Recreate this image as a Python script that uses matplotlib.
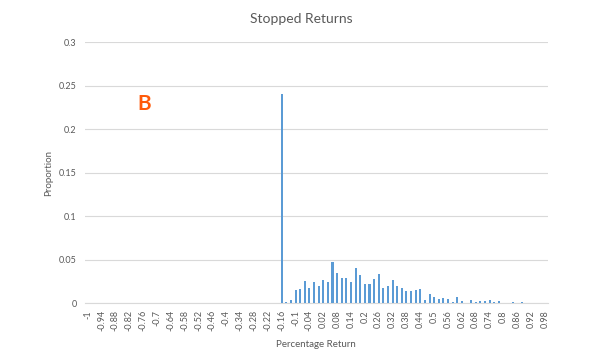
import matplotlib
matplotlib.use("Agg")
import matplotlib.pyplot as plt
import numpy as np

plt.rcParams['font.family'] = ['Lato', 'DejaVu Sans']

# bin labels (percentage return), -1 .. 0.98 step 0.02
bins = [round(-1 + 0.02 * i, 2) for i in range(100)]

# proportion per bin
proportion = [0.0] * 42 + [
    0.240, 0.002, 0.004, 0.015, 0.016, 0.026, 0.018, 0.024, 0.020, 0.027,
    0.025, 0.047, 0.035, 0.029, 0.029, 0.024, 0.041, 0.033, 0.022, 0.022,
    0.028, 0.034, 0.018, 0.020, 0.027, 0.020, 0.018, 0.014, 0.014, 0.015,
    0.016, 0.004, 0.011, 0.007, 0.005, 0.0055, 0.005, 0.002, 0.007, 0.003,
    0.0, 0.0035, 0.001, 0.003, 0.003, 0.004, 0.001, 0.003, 0.0, 0.0,
    0.002, 0.0, 0.001, 0.0, 0.0, 0.0, 0.0, 0.0,
]

y_ticks = [0, 0.05, 0.1, 0.15, 0.2, 0.25, 0.3]
y_labels = ['0', '0.05', '0.1', '0.15', '0.2', '0.25', '0.3']

gris = '#595959'
azul = '#5B9BD5'

fig = plt.figure(figsize=(6.02, 3.51), dpi=100)
ax = fig.add_axes([0.141, 0.136, 0.769, 0.744])

x = np.arange(len(bins))
ax.bar(x, proportion, width=0.45, color=azul, zorder=3)

ax.set_xlim(-0.6, len(bins) - 0.4)
ax.set_ylim(0, 0.3)
ax.set_yticks(y_ticks)
ax.set_yticklabels(y_labels)
ax.set_xticks(x[::3])
ax.set_xticklabels([f"{b:g}" for b in bins[::3]], rotation=90)

ax.grid(axis='y', color='#D9D9D9', linewidth=0.8, zorder=0)
for s in ['top', 'right', 'left']:
    ax.spines[s].set_visible(False)
ax.spines['bottom'].set_color('#D9D9D9')
ax.tick_params(axis='both', length=0, labelsize=6.5, colors=gris)
ax.tick_params(axis='y', pad=6)
ax.tick_params(axis='x', pad=5)

ax.set_xlabel('Percentage Return', fontsize=7, color=gris, labelpad=6)
ax.set_ylabel('Proportion', fontsize=7, color=gris, labelpad=4)
fig.text(0.5, 0.945, 'Stopped Returns', ha='center', va='center', fontsize=10, color=gris)

fig.text(0.24, 0.705, 'B', ha='center', va='center', fontsize=15, color='#FF5A0A', fontweight='bold')

fig.savefig('out.png', dpi=100)
